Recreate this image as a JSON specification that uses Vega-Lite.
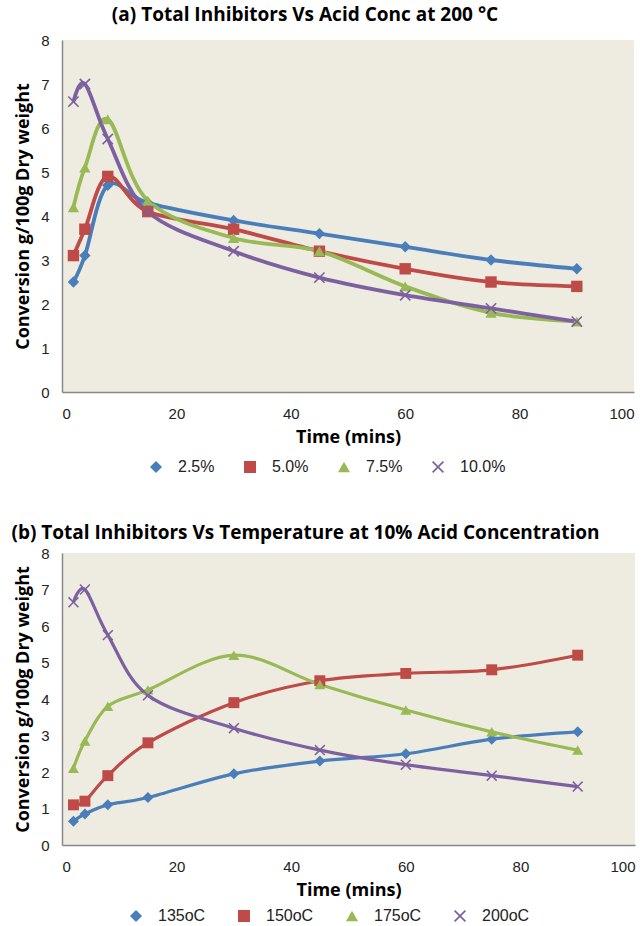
{
  "$schema": "https://vega.github.io/schema/vega-lite/v6.json",
  "padding": {"left": 11, "top": 6, "right": 6, "bottom": 2},
  "spacing": 49,
  "config": {
    "view": {"fill": "#EEECE1", "stroke": null},
    "font": "Liberation Sans",
    "axis": {"domainColor": "#888888", "domainWidth": 1.5, "ticks": false, "grid": false, "labelFont": "Liberation Sans", "labelFontSize": 15, "labelColor": "#222222", "titleFont": "Open Sans", "titleFontSize": 18, "titleFontWeight": "bold", "titleColor": "#000000"},
    "legend": {"orient": "none", "direction": "horizontal", "labelFont": "Liberation Sans", "labelFontSize": 16, "labelColor": "#222", "title": null, "symbolSize": 144, "symbolStrokeWidth": 0, "labelOffset": 14},
    "title": {"font": "Open Sans", "fontWeight": "bold", "color": "#000", "anchor": "middle", "frame": "group", "dx": -43}
  },
  "datasets": {
    "a": [
      {"t": 2, "v": 2.5, "s": "2.5%"}, {"t": 4, "v": 3.1, "s": "2.5%"}, {"t": 8, "v": 4.7, "s": "2.5%"}, {"t": 15, "v": 4.3, "s": "2.5%"}, {"t": 30, "v": 3.9, "s": "2.5%"}, {"t": 45, "v": 3.6, "s": "2.5%"}, {"t": 60, "v": 3.3, "s": "2.5%"}, {"t": 75, "v": 3.0, "s": "2.5%"}, {"t": 90, "v": 2.8, "s": "2.5%"},
      {"t": 2, "v": 3.1, "s": "5.0%"}, {"t": 4, "v": 3.7, "s": "5.0%"}, {"t": 8, "v": 4.9, "s": "5.0%"}, {"t": 15, "v": 4.1, "s": "5.0%"}, {"t": 30, "v": 3.7, "s": "5.0%"}, {"t": 45, "v": 3.2, "s": "5.0%"}, {"t": 60, "v": 2.8, "s": "5.0%"}, {"t": 75, "v": 2.5, "s": "5.0%"}, {"t": 90, "v": 2.4, "s": "5.0%"},
      {"t": 2, "v": 4.2, "s": "7.5%"}, {"t": 4, "v": 5.1, "s": "7.5%"}, {"t": 8, "v": 6.2, "s": "7.5%"}, {"t": 15, "v": 4.35, "s": "7.5%"}, {"t": 30, "v": 3.5, "s": "7.5%"}, {"t": 45, "v": 3.2, "s": "7.5%"}, {"t": 60, "v": 2.4, "s": "7.5%"}, {"t": 75, "v": 1.8, "s": "7.5%"}, {"t": 90, "v": 1.6, "s": "7.5%"},
      {"t": 2, "v": 6.6, "s": "10.0%"}, {"t": 4, "v": 7.0, "s": "10.0%"}, {"t": 8, "v": 5.75, "s": "10.0%"}, {"t": 15, "v": 4.1, "s": "10.0%"}, {"t": 30, "v": 3.2, "s": "10.0%"}, {"t": 45, "v": 2.6, "s": "10.0%"}, {"t": 60, "v": 2.2, "s": "10.0%"}, {"t": 75, "v": 1.9, "s": "10.0%"}, {"t": 90, "v": 1.6, "s": "10.0%"}
    ],
    "b": [
      {"t": 2, "v": 0.65, "g": "135oC"}, {"t": 4, "v": 0.85, "g": "135oC"}, {"t": 8, "v": 1.1, "g": "135oC"}, {"t": 15, "v": 1.3, "g": "135oC"}, {"t": 30, "v": 1.95, "g": "135oC"}, {"t": 45, "v": 2.3, "g": "135oC"}, {"t": 60, "v": 2.5, "g": "135oC"}, {"t": 75, "v": 2.9, "g": "135oC"}, {"t": 90, "v": 3.1, "g": "135oC"},
      {"t": 2, "v": 1.1, "g": "150oC"}, {"t": 4, "v": 1.2, "g": "150oC"}, {"t": 8, "v": 1.9, "g": "150oC"}, {"t": 15, "v": 2.8, "g": "150oC"}, {"t": 30, "v": 3.9, "g": "150oC"}, {"t": 45, "v": 4.5, "g": "150oC"}, {"t": 60, "v": 4.7, "g": "150oC"}, {"t": 75, "v": 4.8, "g": "150oC"}, {"t": 90, "v": 5.2, "g": "150oC"},
      {"t": 2, "v": 2.1, "g": "175oC"}, {"t": 4, "v": 2.85, "g": "175oC"}, {"t": 8, "v": 3.8, "g": "175oC"}, {"t": 15, "v": 4.25, "g": "175oC"}, {"t": 30, "v": 5.2, "g": "175oC"}, {"t": 45, "v": 4.4, "g": "175oC"}, {"t": 60, "v": 3.7, "g": "175oC"}, {"t": 75, "v": 3.1, "g": "175oC"}, {"t": 90, "v": 2.6, "g": "175oC"},
      {"t": 2, "v": 6.65, "g": "200oC"}, {"t": 4, "v": 7.0, "g": "200oC"}, {"t": 8, "v": 5.75, "g": "200oC"}, {"t": 15, "v": 4.1, "g": "200oC"}, {"t": 30, "v": 3.2, "g": "200oC"}, {"t": 45, "v": 2.6, "g": "200oC"}, {"t": 60, "v": 2.2, "g": "200oC"}, {"t": 75, "v": 1.9, "g": "200oC"}, {"t": 90, "v": 1.6, "g": "200oC"}
    ]
  },
  "resolve": {"scale": {"color": "independent", "shape": "independent"}, "legend": {"color": "independent", "shape": "independent"}},
  "vconcat": [
    {
      "title": {"text": "(a) Total Inhibitors Vs Acid Conc at 200 °C", "fontSize": 19, "offset": 8},
      "width": 572,
      "height": 352,
      "data": {"name": "a"},
      "encoding": {
        "x": {"field": "t", "type": "quantitative", "title": "Time (mins)", "scale": {"domain": [0, 100], "nice": false}, "axis": {"values": [0, 20, 40, 60, 80, 100], "labelPadding": 14, "titlePadding": 7}},
        "y": {"field": "v", "type": "quantitative", "title": "Conversion g/100g Dry weight", "scale": {"domain": [0, 8], "nice": false}, "axis": {"values": [0, 1, 2, 3, 4, 5, 6, 7, 8], "labelPadding": 13, "titlePadding": 8}},
        "color": {"field": "s", "type": "nominal", "scale": {"domain": ["2.5%", "5.0%", "7.5%", "10.0%"], "range": ["#4A7EBB", "#BE4B48", "#98B954", "#7D60A0"]}, "legend": {"legendX": 86, "legendY": 419, "columnPadding": 27}}
      },
      "layer": [
        {"mark": {"type": "line", "interpolate": "cardinal", "strokeWidth": 3.8}},
        {"mark": {"type": "point", "filled": true, "opacity": 1, "size": 130},
         "encoding": {"shape": {"field": "s", "type": "nominal", "scale": {"domain": ["2.5%", "5.0%", "7.5%", "10.0%"], "range": ["diamond", "square", "triangle-up", "M-1,-0.8L-0.8,-1L0,-0.2L0.8,-1L1,-0.8L0.2,0L1,0.8L0.8,1L0,0.2L-0.8,1L-1,0.8L-0.2,0Z"]}, "legend": {"legendX": 86, "legendY": 419, "columnPadding": 27}}}}
      ]
    },
    {
      "title": {"text": "(b) Total Inhibitors Vs Temperature at 10% Acid Concentration", "fontSize": 19, "offset": 3},
      "width": 573,
      "height": 292,
      "data": {"name": "b"},
      "encoding": {
        "x": {"field": "t", "type": "quantitative", "title": "Time (mins)", "scale": {"domain": [0, 100], "nice": false}, "axis": {"values": [0, 20, 40, 60, 80, 100], "labelPadding": 14, "titlePadding": 7}},
        "y": {"field": "v", "type": "quantitative", "title": "Conversion g/100g Dry weight", "scale": {"domain": [0, 8], "nice": false}, "axis": {"values": [0, 1, 2, 3, 4, 5, 6, 7, 8], "labelPadding": 13, "titlePadding": 8}},
        "color": {"field": "g", "type": "nominal", "scale": {"domain": ["135oC", "150oC", "175oC", "200oC"], "range": ["#4A7EBB", "#BE4B48", "#98B954", "#7D60A0"]}, "legend": {"legendX": 66, "legendY": 355, "columnPadding": 30}}
      },
      "layer": [
        {"mark": {"type": "line", "interpolate": "cardinal", "strokeWidth": 3.2}},
        {"mark": {"type": "point", "filled": true, "opacity": 1, "size": 120},
         "encoding": {"shape": {"field": "g", "type": "nominal", "scale": {"domain": ["135oC", "150oC", "175oC", "200oC"], "range": ["diamond", "square", "triangle-up", "M-1,-0.8L-0.8,-1L0,-0.2L0.8,-1L1,-0.8L0.2,0L1,0.8L0.8,1L0,0.2L-0.8,1L-1,0.8L-0.2,0Z"]}, "legend": {"legendX": 66, "legendY": 355, "columnPadding": 30}}}}
      ]
    }
  ]
}
